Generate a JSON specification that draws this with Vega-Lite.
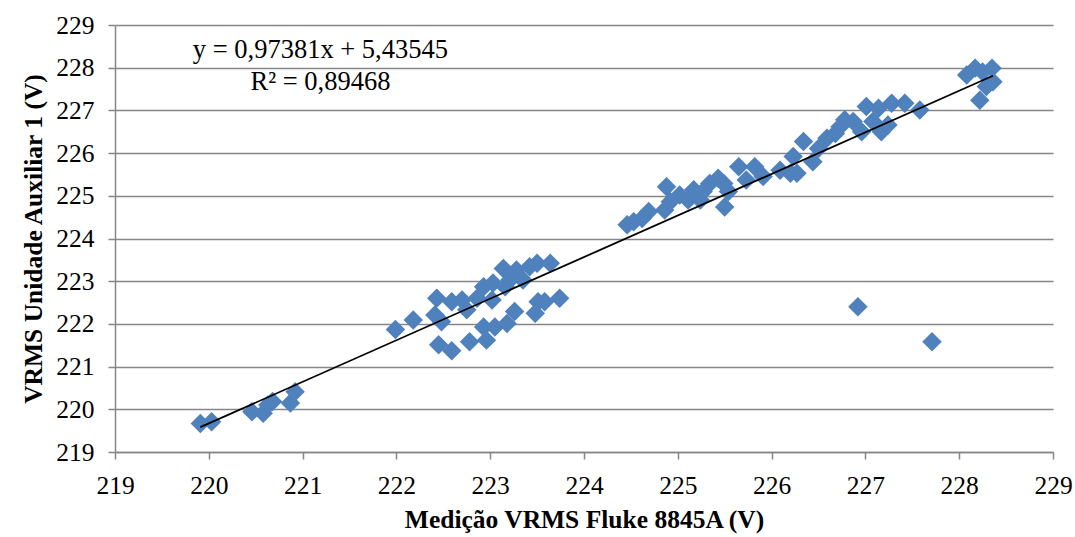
{
  "$schema": "https://vega.github.io/schema/vega-lite/v6.json",
  "autosize": {"type": "none"},
  "padding": {"left": 115, "top": 25, "right": 22, "bottom": 85},
  "width": 938,
  "height": 427,
  "background": "white",
  "config": {
    "view": {"stroke": null},
    "font": "Liberation Serif",
    "axis": {
      "labelFont": "Liberation Serif",
      "titleFont": "Liberation Serif",
      "labelColor": "black",
      "titleColor": "black",
      "labelFontSize": 25.5,
      "titleFontSize": 25.5,
      "titleFontWeight": "bold",
      "domainColor": "#868686",
      "domainWidth": 1.5,
      "tickColor": "#868686",
      "tickWidth": 1.5,
      "tickSize": 7,
      "gridColor": "#868686",
      "gridWidth": 1.5
    }
  },
  "datasets": {
    "pts": [
      {"fluke": 219.91, "aux": 219.67},
      {"fluke": 220.03, "aux": 219.71},
      {"fluke": 220.46, "aux": 219.94},
      {"fluke": 220.58, "aux": 219.91},
      {"fluke": 220.63, "aux": 220.10},
      {"fluke": 220.68, "aux": 220.18},
      {"fluke": 220.87, "aux": 220.15},
      {"fluke": 220.92, "aux": 220.41},
      {"fluke": 221.99, "aux": 221.87},
      {"fluke": 222.18, "aux": 222.09},
      {"fluke": 222.43, "aux": 222.60},
      {"fluke": 222.41, "aux": 222.21},
      {"fluke": 222.48, "aux": 222.05},
      {"fluke": 222.45, "aux": 221.51},
      {"fluke": 222.59, "aux": 221.37},
      {"fluke": 222.59, "aux": 222.52},
      {"fluke": 222.70, "aux": 222.56},
      {"fluke": 222.75, "aux": 222.33},
      {"fluke": 222.78, "aux": 221.58},
      {"fluke": 222.86, "aux": 222.60},
      {"fluke": 222.93, "aux": 222.87},
      {"fluke": 222.93, "aux": 221.93},
      {"fluke": 222.96, "aux": 221.62},
      {"fluke": 223.02, "aux": 222.56},
      {"fluke": 223.03, "aux": 222.96},
      {"fluke": 223.05, "aux": 221.93},
      {"fluke": 223.14, "aux": 223.30},
      {"fluke": 223.16, "aux": 222.87},
      {"fluke": 223.18, "aux": 222.01},
      {"fluke": 223.21, "aux": 223.03},
      {"fluke": 223.26, "aux": 222.29},
      {"fluke": 223.28, "aux": 223.26},
      {"fluke": 223.35, "aux": 223.03},
      {"fluke": 223.42, "aux": 223.34},
      {"fluke": 223.50, "aux": 223.42},
      {"fluke": 223.51, "aux": 222.52},
      {"fluke": 223.48, "aux": 222.25},
      {"fluke": 223.64, "aux": 223.42},
      {"fluke": 223.58, "aux": 222.52},
      {"fluke": 223.74, "aux": 222.60},
      {"fluke": 224.46, "aux": 224.32},
      {"fluke": 224.53, "aux": 224.39},
      {"fluke": 224.62, "aux": 224.47},
      {"fluke": 224.69, "aux": 224.63},
      {"fluke": 224.88, "aux": 225.21},
      {"fluke": 224.86, "aux": 224.67},
      {"fluke": 224.92, "aux": 224.86},
      {"fluke": 225.02, "aux": 225.02},
      {"fluke": 225.11, "aux": 224.90},
      {"fluke": 225.17, "aux": 225.14},
      {"fluke": 225.24, "aux": 224.90},
      {"fluke": 225.27, "aux": 225.10},
      {"fluke": 225.34, "aux": 225.29},
      {"fluke": 225.43, "aux": 225.41},
      {"fluke": 225.49, "aux": 225.29},
      {"fluke": 225.50, "aux": 224.74},
      {"fluke": 225.54, "aux": 225.10},
      {"fluke": 225.65, "aux": 225.68},
      {"fluke": 225.73, "aux": 225.37},
      {"fluke": 225.82, "aux": 225.68},
      {"fluke": 225.91, "aux": 225.45},
      {"fluke": 226.09, "aux": 225.60},
      {"fluke": 226.20, "aux": 225.53},
      {"fluke": 226.23, "aux": 225.92},
      {"fluke": 226.27, "aux": 225.53},
      {"fluke": 226.34, "aux": 226.27},
      {"fluke": 226.44, "aux": 225.80},
      {"fluke": 226.50, "aux": 226.11},
      {"fluke": 226.59, "aux": 226.35},
      {"fluke": 226.68, "aux": 226.46},
      {"fluke": 226.73, "aux": 226.62},
      {"fluke": 226.78, "aux": 226.78},
      {"fluke": 226.87, "aux": 226.74},
      {"fluke": 226.96, "aux": 226.50},
      {"fluke": 227.01, "aux": 227.09},
      {"fluke": 227.08, "aux": 226.74},
      {"fluke": 227.14, "aux": 227.05},
      {"fluke": 227.17, "aux": 226.50},
      {"fluke": 227.24, "aux": 226.66},
      {"fluke": 227.28, "aux": 227.17},
      {"fluke": 227.42, "aux": 227.17},
      {"fluke": 227.58, "aux": 227.01},
      {"fluke": 226.92, "aux": 222.40},
      {"fluke": 227.71, "aux": 221.58},
      {"fluke": 228.08, "aux": 227.83},
      {"fluke": 228.17, "aux": 227.99},
      {"fluke": 228.25, "aux": 227.90},
      {"fluke": 228.35, "aux": 227.99},
      {"fluke": 228.36, "aux": 227.67},
      {"fluke": 228.29, "aux": 227.56},
      {"fluke": 228.22, "aux": 227.24}
    ],
    "trend": [
      {"fluke": 219.91, "aux": 219.582},
      {"fluke": 228.36, "aux": 227.811}
    ],
    "eq": [
      {"fluke": 221.19, "aux": 228.41, "label": "y = 0,97381x + 5,43545"},
      {"fluke": 221.19, "aux": 227.66, "label": "R² = 0,89468"}
    ]
  },
  "encoding": {
    "x": {
      "field": "fluke", "type": "quantitative",
      "scale": {"domain": [219, 229], "nice": false, "zero": false},
      "axis": {
        "values": [219, 220, 221, 222, 223, 224, 225, 226, 227, 228, 229],
        "grid": false,
        "labelPadding": 14,
        "title": "Medição VRMS Fluke 8845A (V)",
        "titlePadding": 9,
        "labelFlush": false
      }
    },
    "y": {
      "field": "aux", "type": "quantitative",
      "scale": {"domain": [219, 229], "nice": false, "zero": false},
      "axis": {
        "values": [219, 220, 221, 222, 223, 224, 225, 226, 227, 228, 229],
        "grid": true,
        "labelPadding": 14,
        "title": "VRMS Unidade Auxiliar 1 (V)",
        "titlePadding": 9,
        "labelFlush": false
      }
    }
  },
  "layer": [
    {
      "data": {"name": "pts"},
      "mark": {"type": "point", "shape": "diamond", "filled": true, "size": 380, "color": "#4F81BD", "opacity": 1, "strokeWidth": 0}
    },
    {
      "data": {"name": "trend"},
      "mark": {"type": "line", "color": "black", "strokeWidth": 1.8}
    },
    {
      "data": {"name": "eq"},
      "mark": {"type": "text", "font": "Liberation Serif", "fontSize": 26.5, "color": "black", "align": "center", "baseline": "middle"},
      "encoding": {"text": {"field": "label"}}
    }
  ]
}
